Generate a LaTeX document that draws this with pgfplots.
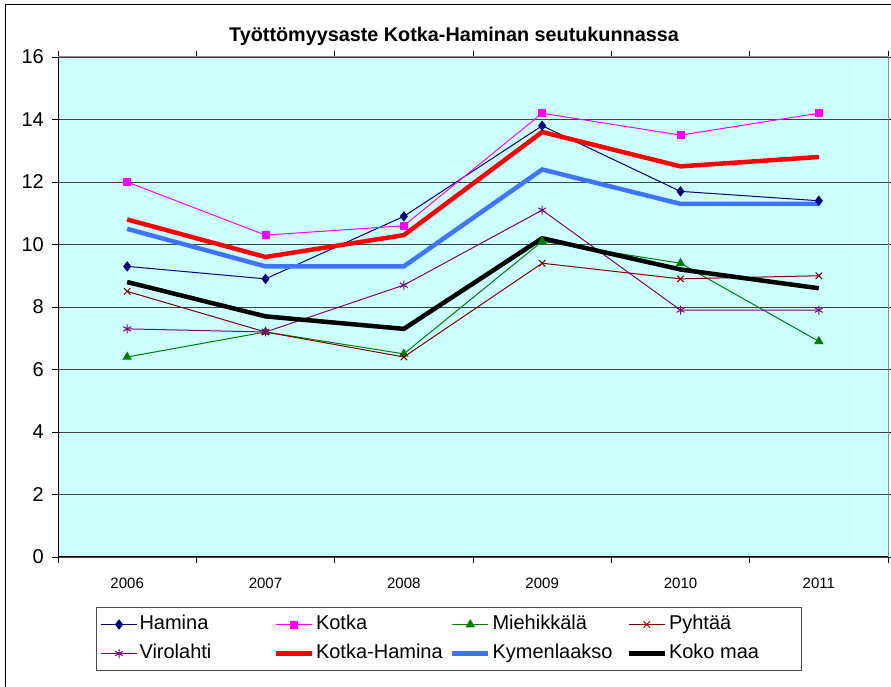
\documentclass[border=0pt]{standalone}
\usepackage{pgfplots}
\pgfplotsset{compat=1.18}
\usepackage{fontspec}
\setmainfont{Liberation Sans}
\definecolor{plotbg}{HTML}{CCFFFF}
\definecolor{cHamina}{HTML}{000080}
\definecolor{cKotka}{HTML}{FF00FF}
\definecolor{cMieh}{HTML}{008000}
\definecolor{cPyh}{HTML}{800000}
\definecolor{cViro}{HTML}{800080}
\definecolor{cKH}{HTML}{FF0000}
\definecolor{cKym}{HTML}{3F74FF}
\begin{document}
\begin{tikzpicture}
\useasboundingbox (0,0) rectangle (891pt,687pt);
\draw[line width=1pt] (5pt,0pt) -- (5pt,682.5pt) -- (891pt,682.5pt);
\node[font=\bfseries\fontsize{19.8}{22}\selectfont] at (454pt,651pt) {Työttömyysaste Kotka-Haminan seutukunnassa};
\begin{axis}[
  at={(58pt,130pt)}, anchor=south west,
  scale only axis, width=830pt, height=500pt,
  xmin=-0.5, xmax=5.5, ymin=0, ymax=16,
  axis background/.style={fill=plotbg},
  axis line style={draw=black!45, line width=1pt},
  xtick={0,...,5},
  xticklabels={2006,2007,2008,2009,2010,2011},
  minor xtick={-0.5,0.5,...,5.5},
  ytick={0,2,...,16},
  tick align=outside,
  major tick length=6pt, minor tick length=6pt,
  major x tick style={draw=none},
  every tick/.style={black, line width=0.8pt},
  ymajorgrids,
  major grid style={draw=black!75, line width=0.9pt},
  /pgf/number format/assume math mode=true,
  yticklabel style={font=\fontsize{20}{22}\selectfont, inner sep=2pt, xshift=-6pt},
  xticklabel style={font=\fontsize{15}{17}\selectfont, yshift=-11pt},
  legend columns=4,
  legend cell align=left,
  legend style={at={(0.0458,-0.1)}, anchor=north west, draw=black!70, line width=1pt, fill=white,
    inner xsep=4pt, inner ysep=6pt, row sep=7pt, column sep=0pt,
    font=\fontsize{20}{22}\selectfont,
    nodes={inner sep=2pt, text height=14pt, text depth=4pt}},
  legend image code/.code={\draw[mark repeat=2,mark phase=2,#1] plot coordinates {(0pt,0pt) (18pt,0pt) (36pt,0pt)};},
  after end axis/.code={
    \draw[black, line width=1pt] (rel axis cs:0,1) -- (rel axis cs:0,0) -- (rel axis cs:1,0);
  },
]
\addplot[cHamina, line width=1pt, mark=diamond*, mark size=4.5pt, mark options={solid}] coordinates {(0,9.3) (1,8.9) (2,10.9) (3,13.8) (4,11.7) (5,11.4)};
\addlegendentry{\makebox[132pt][l]{Hamina}}
\addplot[cKotka, line width=1pt, mark=square*, mark size=3.5pt] coordinates {(0,12.0) (1,10.3) (2,10.6) (3,14.2) (4,13.5) (5,14.2)};
\addlegendentry{\makebox[132pt][l]{Kotka}}
\addplot[cMieh, line width=1pt, mark=triangle*, mark size=4.5pt] coordinates {(0,6.4) (1,7.2) (2,6.5) (3,10.1) (4,9.4) (5,6.9)};
\addlegendentry{\makebox[132pt][l]{Miehikkälä}}
\addplot[cPyh, line width=1pt, mark=x, mark size=4.5pt] coordinates {(0,8.5) (1,7.2) (2,6.4) (3,9.4) (4,8.9) (5,9.0)};
\addlegendentry{\makebox[126pt][l]{Pyhtää}}
\addplot[cViro, line width=1pt, mark=asterisk, mark size=4.5pt] coordinates {(0,7.3) (1,7.2) (2,8.7) (3,11.1) (4,7.9) (5,7.9)};
\addlegendentry{\makebox[132pt][l]{Virolahti}}
\addplot[cKH, line width=4.5pt] coordinates {(0,10.8) (1,9.6) (2,10.3) (3,13.6) (4,12.5) (5,12.8)};
\addlegendentry{\makebox[132pt][l]{Kotka-Hamina}}
\addplot[cKym, line width=4.5pt] coordinates {(0,10.5) (1,9.3) (2,9.3) (3,12.4) (4,11.3) (5,11.3)};
\addlegendentry{\makebox[132pt][l]{Kymenlaakso}}
\addplot[black, line width=4.5pt] coordinates {(0,8.8) (1,7.7) (2,7.3) (3,10.2) (4,9.2) (5,8.6)};
\addlegendentry{\makebox[126pt][l]{Koko maa}}
\end{axis}
\end{tikzpicture}
\end{document}
